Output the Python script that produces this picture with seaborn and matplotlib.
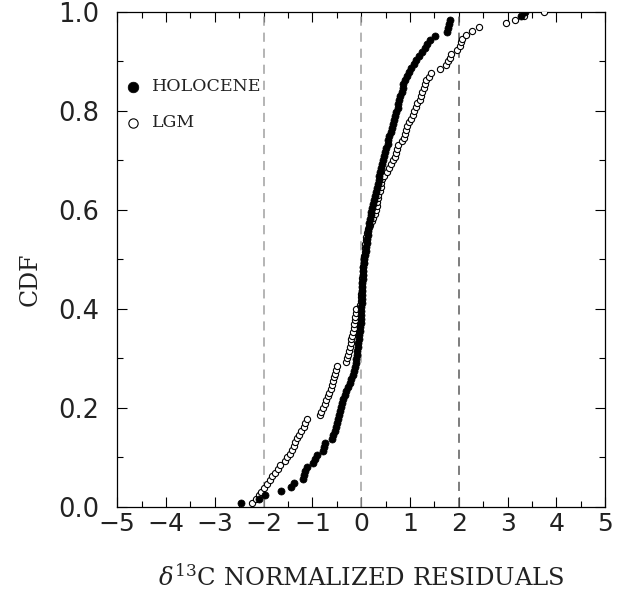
import numpy as np
import pandas as pd
import matplotlib
matplotlib.use("Agg")
import matplotlib.pyplot as plt
import seaborn as sns
from matplotlib.ticker import MultipleLocator

# Sorted normalized residuals (one value per sample)
holocene_resid = [
    -2.46, -2.09, -1.97, -1.64, -1.43, -1.37, -1.19, -1.17, -1.15, -1.11,
    -0.98, -0.94, -0.90, -0.78, -0.76, -0.74, -0.59, -0.57, -0.53, -0.51,
    -0.49, -0.47, -0.45, -0.43, -0.41, -0.39, -0.37, -0.33, -0.31, -0.27,
    -0.23, -0.20, -0.16, -0.14, -0.12, -0.11, -0.10, -0.09, -0.08, -0.07,
    -0.06, -0.05, -0.04, -0.03, -0.02, -0.015, -0.01, 0.00, 0.00, 0.005,
    0.01, 0.01, 0.015, 0.02, 0.02, 0.025, 0.03, 0.03, 0.04, 0.045,
    0.05, 0.06, 0.07, 0.09, 0.10, 0.11, 0.12, 0.13, 0.14, 0.15,
    0.16, 0.18, 0.19, 0.20, 0.22, 0.24, 0.27, 0.29, 0.31, 0.33,
    0.35, 0.37, 0.37, 0.39, 0.41, 0.43, 0.44, 0.47, 0.49, 0.51,
    0.54, 0.55, 0.57, 0.60, 0.63, 0.66, 0.67, 0.69, 0.72, 0.75,
    0.76, 0.77, 0.80, 0.83, 0.85, 0.86, 0.90, 0.94, 0.97, 1.02,
    1.08, 1.13, 1.19, 1.25, 1.30, 1.34, 1.41, 1.52, 1.76, 1.78,
    1.80, 1.82, 3.28, 3.36,
]

lgm_resid = [
    -2.23, -2.15, -2.09, -2.05, -1.99, -1.93, -1.86, -1.82, -1.76, -1.70,
    -1.66, -1.56, -1.52, -1.45, -1.41, -1.37, -1.35, -1.31, -1.27, -1.23,
    -1.17, -1.15, -1.11, -0.84, -0.82, -0.78, -0.74, -0.72, -0.68, -0.66,
    -0.61, -0.59, -0.57, -0.55, -0.53, -0.51, -0.49, -0.31, -0.29, -0.27,
    -0.25, -0.23, -0.21, -0.20, -0.18, -0.16, -0.15, -0.14, -0.13, -0.12,
    -0.11, -0.10, -0.02, -0.01, 0.00, 0.00, 0.01, 0.01, 0.02, 0.02,
    0.03, 0.04, 0.04, 0.05, 0.06, 0.06, 0.07, 0.08, 0.08, 0.09,
    0.10, 0.12, 0.14, 0.18, 0.22, 0.25, 0.29, 0.31, 0.32, 0.33,
    0.34, 0.35, 0.39, 0.40, 0.41, 0.43, 0.47, 0.53, 0.57, 0.61,
    0.66, 0.69, 0.71, 0.73, 0.76, 0.84, 0.88, 0.90, 0.92, 0.94,
    0.97, 1.02, 1.06, 1.09, 1.12, 1.14, 1.21, 1.23, 1.25, 1.28,
    1.30, 1.33, 1.39, 1.43, 1.62, 1.74, 1.78, 1.82, 1.84, 1.97,
    2.03, 2.05, 2.07, 2.15, 2.27, 2.42, 2.97, 3.14, 3.34, 3.75,
]

ref_lines = [-2, 0, 2]
ref_colors = ["#a0a0a0", "#a0a0a0", "#5a5a5a"]
x_ticks = [-5, -4, -3, -2, -1, 0, 1, 2, 3, 4, 5]
y_ticks = [0.0, 0.2, 0.4, 0.6, 0.8, 1.0]


def ecdf_frame(values, label):
    v = np.sort(np.asarray(values, dtype=float))
    n = len(v)
    return pd.DataFrame({"resid": v, "cdf": np.arange(1, n + 1) / n, "set": label})


hol = ecdf_frame(holocene_resid, "HOLOCENE")
lgm = ecdf_frame(lgm_resid, "LGM")

sns.set_theme(style="ticks")
plt.rcParams["font.family"] = ["DejaVu Serif", "Liberation Serif"]
plt.rcParams["mathtext.fontset"] = "dejavuserif"

fig = plt.figure(figsize=(6.17, 5.97), dpi=100)
ax = fig.add_axes([0.190, 0.151, 0.791, 0.829])

for xv, c in zip(ref_lines, ref_colors):
    ax.axvline(xv, color=c, lw=1.1, ls=(0, (6, 4.5)), zorder=1)

sns.scatterplot(data=lgm, x="resid", y="cdf", ax=ax, marker="o", s=20,
                facecolor="white", edgecolor="black", linewidth=0.8,
                label="LGM", zorder=3)
sns.scatterplot(data=hol, x="resid", y="cdf", ax=ax, marker="o", s=26,
                color="black", edgecolor="black", linewidth=0.5,
                label="HOLOCENE", zorder=4)

ax.set_xlim(-5, 5)
ax.set_ylim(0, 1)
ax.set_xticks(x_ticks)
ax.set_yticks(y_ticks)
ax.xaxis.set_minor_locator(MultipleLocator(0.5))
ax.yaxis.set_minor_locator(MultipleLocator(0.1))
tick_family = ["DejaVu Sans"]
ax.set_xticklabels([("\u2212%d" % -t) if t < 0 else "%d" % t for t in x_ticks],
                   family=tick_family, fontsize=18, color="#222222")
ax.set_yticklabels(["%.1f" % t for t in y_ticks],
                   family=tick_family, fontsize=18.5, color="#222222")
ax.tick_params(which="both", direction="in", top=True, right=True,
               color="black", width=0.8)
ax.tick_params(which="major", length=7)
ax.tick_params(axis="x", which="major", pad=4)
ax.tick_params(axis="y", which="major", pad=13)
ax.tick_params(which="minor", length=4)
for sp in ax.spines.values():
    sp.set_color("black")
    sp.set_linewidth(0.9)

ax.set_xlabel(r"$\delta^{13}$C NORMALIZED RESIDUALS", fontsize=17.5,
              va="center", color="#222222")
ax.xaxis.set_label_coords(0.5, -0.143)
ax.set_ylabel("CDF", fontsize=17, va="center", color="#222222")
ax.yaxis.set_label_coords(-0.178, 0.46)

handles, labels = ax.get_legend_handles_labels()
order = [labels.index("HOLOCENE"), labels.index("LGM")]
leg = ax.legend([handles[i] for i in order], [labels[i] for i in order],
                loc="upper left", bbox_to_anchor=(0.014, 0.866), frameon=False,
                fontsize=12.5, markerscale=1.5, handlelength=1.0,
                handletextpad=0.63, labelspacing=1.1, borderaxespad=0.0,
                borderpad=0.0)
for t in leg.get_texts():
    t.set_color("#222222")

fig.savefig("out.png", dpi=100, facecolor="white")
